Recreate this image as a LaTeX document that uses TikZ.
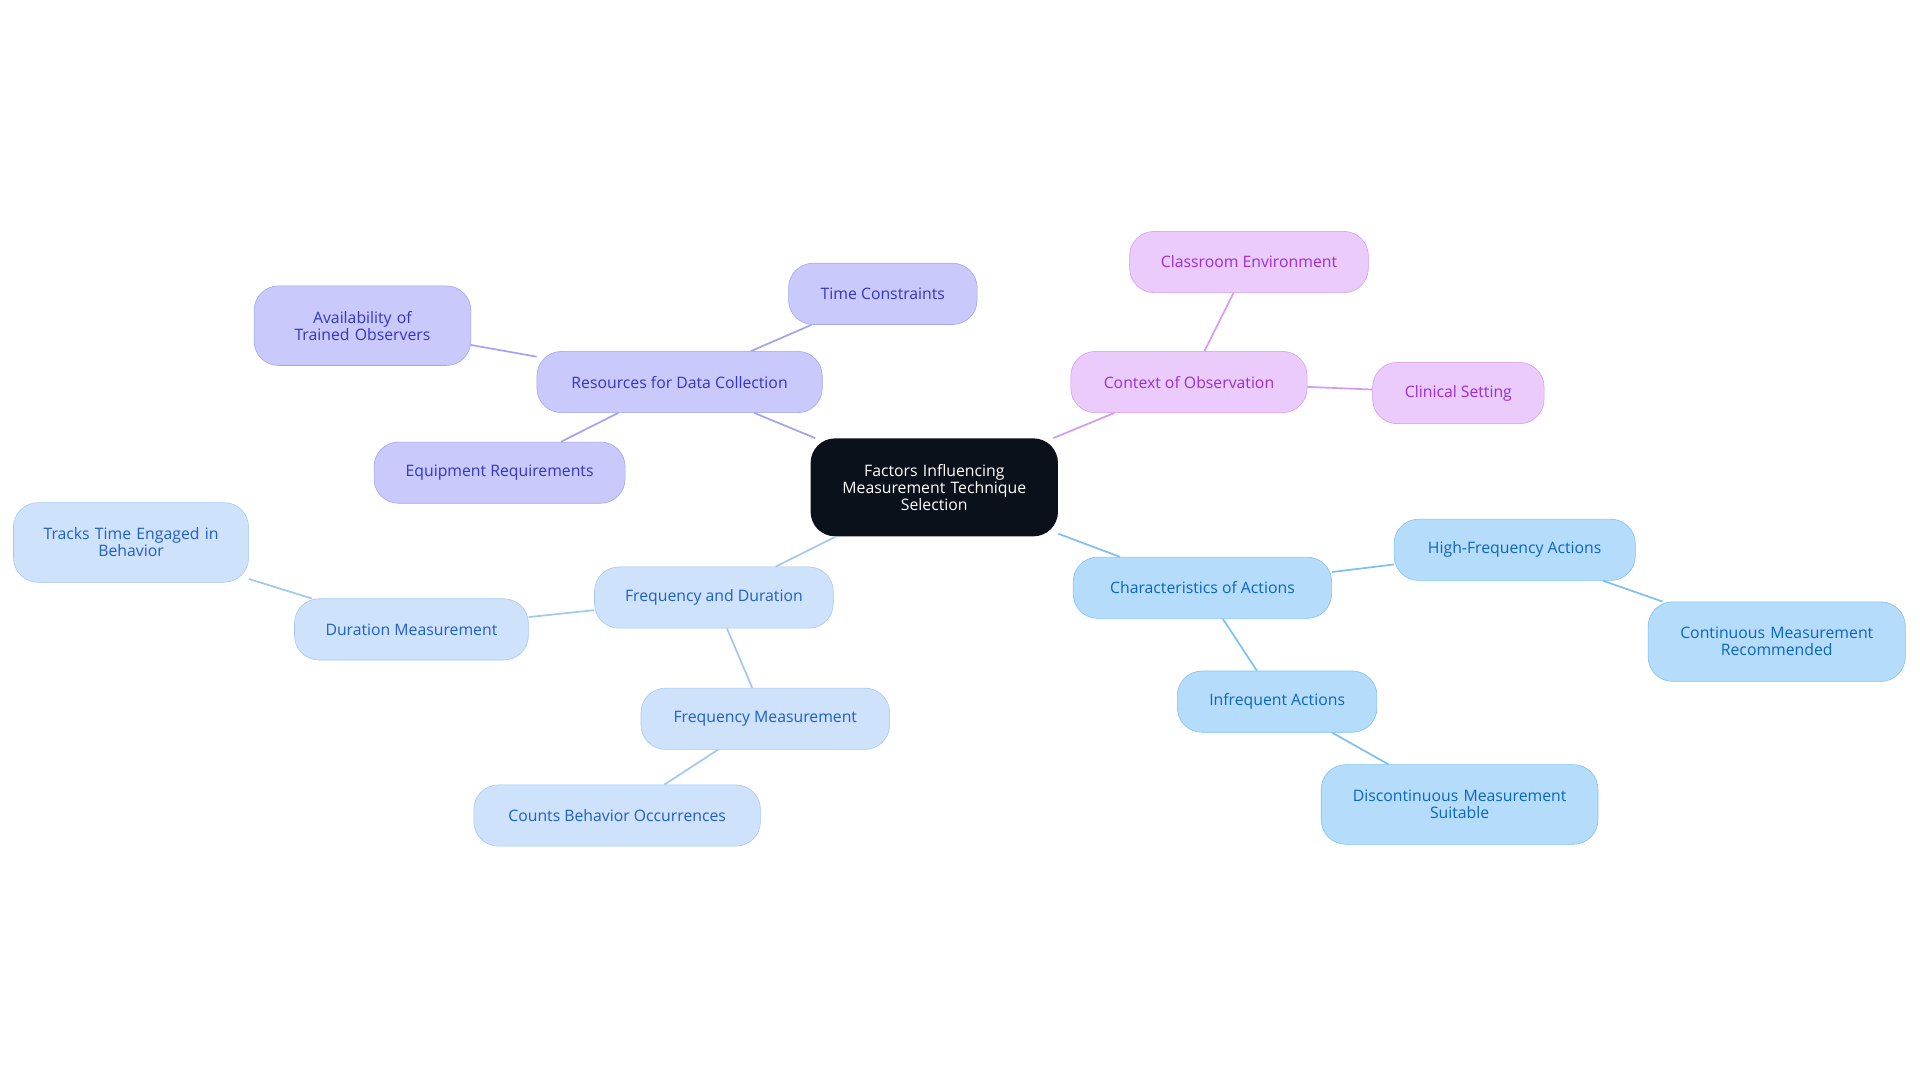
\documentclass[tikz,border=0pt]{standalone}
\usepackage{fontspec}
\setmainfont{Open Sans}
\usetikzlibrary{positioning}
\definecolor{darkbg}{HTML}{0B111B}
\definecolor{violetfill}{HTML}{C9C9FB}
\definecolor{violetline}{HTML}{A3A3F2}
\definecolor{violettext}{HTML}{3434C8}
\definecolor{purplefill}{HTML}{EACBFC}
\definecolor{purpleline}{HTML}{D39BF2}
\definecolor{purpletext}{HTML}{9A2ED3}
\definecolor{lbluefill}{HTML}{CFE2FB}
\definecolor{lblueline}{HTML}{A3C7F3}
\definecolor{lbluetext}{HTML}{1F5FC8}
\definecolor{bluefill}{HTML}{B5DCFB}
\definecolor{blueline}{HTML}{7EC0F2}
\definecolor{bluetext}{HTML}{0B66BE}
\tikzset{x=0.03cm, y=-0.03cm,
every node/.style={align=center, font=\fontsize{11}{12}\selectfont, rounded corners=0.6cm, inner sep=2pt},
topic/.style={fill=darkbg, text=white, text width=5.2cm},
res/.style={draw=violetline, fill=violetfill, text=violettext},
ctx/.style={draw=purpleline, fill=purplefill, text=purpletext},
frq/.style={draw=lblueline, fill=lbluefill, text=lbluetext},
act/.style={draw=blueline, fill=bluefill, text=bluetext},
box/.style 2 args={minimum width=#1*0.03cm, minimum height=#2*0.03cm},
link/.style={line width=1.2pt}}
\begin{document}
\begin{tikzpicture}
    \useasboundingbox (0,0) rectangle (1568,884.5);

    \node[topic, box={202}{80}] (root) at (763,398) {Factors Influencing\\Measurement Technique\\Selection};

    \node[res, box={233}{50}] (resources) at (555,312) {Resources for Data Collection};
    \node[res, box={154}{50}] (time) at (721,240) {Time Constraints};
    \node[res, box={177}{65}, text width=4.6cm] (observers) at (296,266) {Availability of Trained Observers};
    \node[res, box={205}{50}] (equipment) at (408,386) {Equipment Requirements};

    \node[ctx, box={193}{50}] (context) at (971,312) {Context of Observation};
    \node[ctx, box={195}{50}] (classroom) at (1020,214) {Classroom Environment};
    \node[ctx, box={140}{50}] (clinical) at (1191,321) {Clinical Setting};

    \node[frq, box={195}{50}] (freqdur) at (583,488) {Frequency and Duration};
    \node[frq, box={191}{50}] (duration) at (336,514) {Duration Measurement};
    \node[frq, box={192}{65}, text width=5cm] (tracks) at (107,443) {Tracks Time Engaged in\\Behavior};
    \node[frq, box={203}{50}] (frequency) at (625,587) {Frequency Measurement};
    \node[frq, box={234}{50}] (counts) at (504,666) {Counts Behavior Occurrences};

    \node[act, box={211}{50}] (characteristics) at (982,480) {Characteristics of Actions};
    \node[act, box={197}{50}] (highfreq) at (1237,449) {High-Frequency Actions};
    \node[act, box={210}{65}, text width=5.5cm] (continuous) at (1451,524) {Continuous Measurement\\Recommended};
    \node[act, box={163}{50}] (infrequent) at (1043,573) {Infrequent Actions};
    \node[act, box={226}{65}, text width=6cm] (discontinuous) at (1192,657) {Discontinuous Measurement\\Suitable};

    \draw[link, violetline] (root) -- (resources);
    \draw[link, violetline] (resources) -- (time);
    \draw[link, violetline] (resources) -- (observers);
    \draw[link, violetline] (resources) -- (equipment);
    \draw[link, purpleline] (root) -- (context);
    \draw[link, purpleline] (context) -- (classroom);
    \draw[link, purpleline] (context) -- (clinical);
    \draw[link, lblueline] (root) -- (freqdur);
    \draw[link, lblueline] (freqdur) -- (duration);
    \draw[link, lblueline] (duration) -- (tracks);
    \draw[link, lblueline] (freqdur) -- (frequency);
    \draw[link, lblueline] (frequency) -- (counts);
    \draw[link, blueline] (root) -- (characteristics);
    \draw[link, blueline] (characteristics) -- (highfreq);
    \draw[link, blueline] (highfreq) -- (continuous);
    \draw[link, blueline] (characteristics) -- (infrequent);
    \draw[link, blueline] (infrequent) -- (discontinuous);
\end{tikzpicture}
\end{document}
